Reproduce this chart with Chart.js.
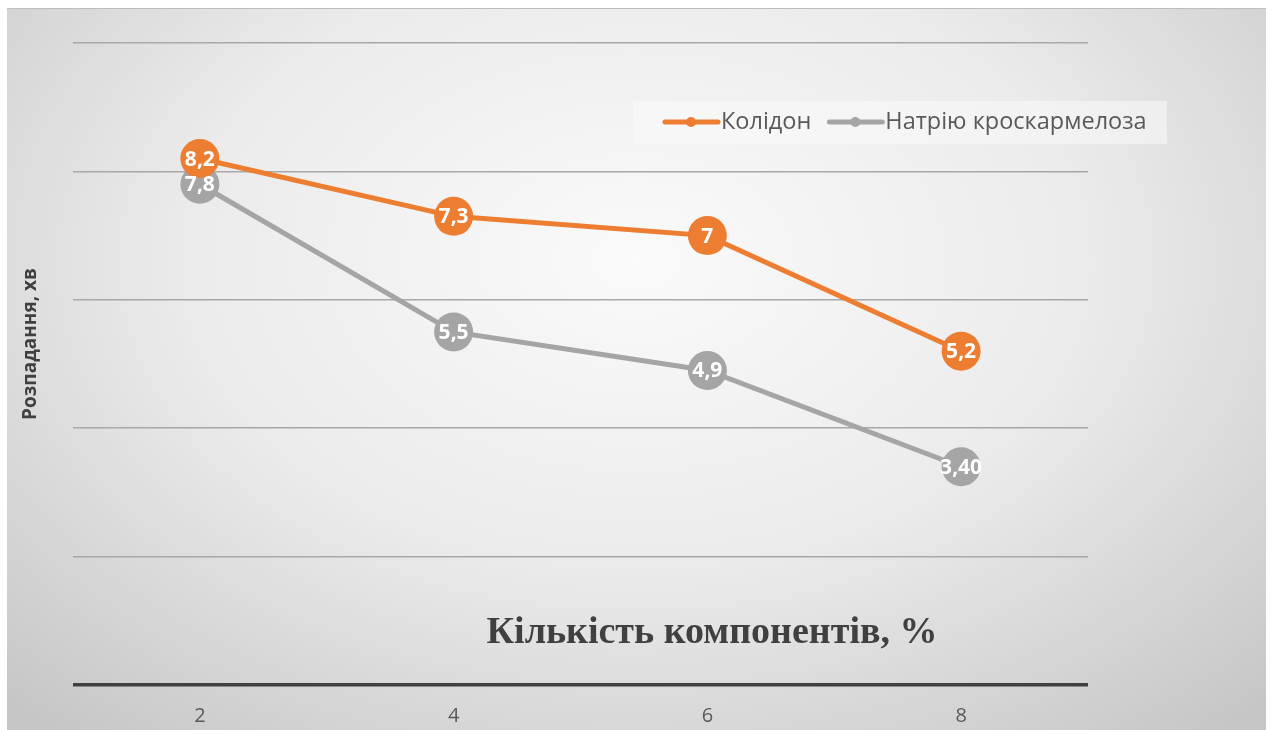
<!DOCTYPE html>
<html>
<head>
<meta charset="utf-8">
<script src="https://cdn.jsdelivr.net/npm/chart.js@4"></script>
<style>
    html, body { margin: 0; padding: 0; background: #fff; }
    #card {
        position: absolute; left: 7px; top: 8px; width: 1259px; height: 722px;
        background: radial-gradient(ellipse 72% 85% at 50% 35%, #fafafa 0%, #ebebeb 50%, #c6c6c6 100%);
        border-top: 1px solid #bdbdbd;
        box-sizing: border-box;
    }
</style>
</head>
<body>
<div id="card"><canvas id="chart" width="1259" height="721"></canvas></div>
<script>
// --- Data ---
const categories = ['2', '4', '6', '8'];
const kolidonValues = [8.2, 7.3, 7.0, 5.2];
const kolidonLabels = ['8,2', '7,3', '7', '5,2'];
const natriumValues = [7.8, 5.5, 4.9, 3.4];
const natriumLabels = ['7,8', '5,5', '4,9', '3,40'];
const yTicks = [0, 2, 4, 6, 8, 10];

const xTitle = 'Кількість компонентів, %';
const yTitle = 'Розпадання, хв';

const ORANGE = '#ED7D31';
const GREY = '#A5A5A5';

// --- Plugins ---
const pointLabels = {
    id: 'pointLabels',
    afterDatasetsDraw(chart) {
        const ctx = chart.ctx;
        ctx.save();
        ctx.font = 'bold 21px "Open Sans", sans-serif';
        ctx.fillStyle = '#fff';
        ctx.textAlign = 'center';
        ctx.textBaseline = 'middle';
        chart.data.datasets.forEach((ds, i) => {
            chart.getDatasetMeta(i).data.forEach((pt, j) => {
                ctx.fillText(ds.pointText[j], pt.x, pt.y + 1);
            });
        });
        ctx.restore();
    }
};

const titlesAndLegend = {
    id: 'titlesAndLegend',
    afterDraw(chart) {
        const ctx = chart.ctx;
        const area = chart.chartArea;
        ctx.save();

        // x title inside the plot
        ctx.font = 'bold 38px "Liberation Serif", serif';
        ctx.fillStyle = '#404040';
        ctx.textAlign = 'center';
        ctx.textBaseline = 'alphabetic';
        ctx.fillText(xTitle, area.left + 639, area.bottom - 42);

        // y title
        ctx.translate(24, area.top + 301);
        ctx.rotate(-Math.PI / 2);
        ctx.font = 'bold 19px "Open Sans", sans-serif';
        ctx.textBaseline = 'middle';
        ctx.fillText(yTitle, 0, 0);
        ctx.setTransform(1, 0, 0, 1, 0, 0);

        // legend
        const lx = area.right - 455, ly = 92;
        ctx.fillStyle = 'rgba(250,250,250,0.55)';
        ctx.fillRect(lx, ly, 534, 43);
        const cy = ly + 21;
        let x = lx + 32;
        ctx.font = '23.5px "Open Sans", sans-serif';
        ctx.textAlign = 'left';
        ctx.textBaseline = 'middle';
        chart.data.datasets.forEach(ds => {
            ctx.strokeStyle = ds.borderColor;
            ctx.lineWidth = 5;
            ctx.lineCap = 'round';
            ctx.beginPath();
            ctx.moveTo(x, cy);
            ctx.lineTo(x + 53, cy);
            ctx.stroke();
            ctx.fillStyle = ds.borderColor;
            ctx.beginPath();
            ctx.arc(x + 26, cy, 5, 0, Math.PI * 2);
            ctx.fill();
            ctx.fillStyle = '#595959';
            ctx.fillText(ds.label, x + 56, cy);
            x += 56 + ctx.measureText(ds.label).width + 18;
        });
        ctx.restore();
    }
};

// --- Chart ---
new Chart(document.getElementById('chart'), {
    type: 'line',
    data: {
        labels: categories,
        datasets: [
            {
                label: 'Колідон',
                data: kolidonValues,
                pointText: kolidonLabels,
                borderColor: ORANGE,
                backgroundColor: ORANGE,
                borderWidth: 5,
                pointRadius: 19.5,
                pointBorderWidth: 0,
                pointHoverRadius: 19.5
            },
            {
                label: 'Натрію кроскармелоза',
                data: natriumValues,
                pointText: natriumLabels,
                borderColor: GREY,
                backgroundColor: GREY,
                borderWidth: 5,
                pointRadius: 19.5,
                pointBorderWidth: 0,
                pointHoverRadius: 19.5
            }
        ]
    },
    options: {
        responsive: false,
        animation: false,
        events: [],
        layout: { padding: { top: 34, right: 178, left: 0, bottom: 0 } },
        plugins: { legend: { display: false }, tooltip: { enabled: false } },
        scales: {
            x: {
                offset: true,
                grid: { display: false },
                border: { display: false },
                ticks: { color: '#595959', font: { size: 20, family: '"Open Sans", sans-serif' }, padding: 11 },
                afterFit(scale) { scale.height = 45; }
            },
            y: {
                min: 0,
                max: 10,
                afterBuildTicks(scale) { scale.ticks = yTicks.map(v => ({ value: v })); },
                ticks: { display: false },
                border: { display: false },
                grid: {
                    drawTicks: false,
                    color: ctx => ctx.tick.value === 0 ? '#404040' : '#a8a8a8',
                    lineWidth: ctx => ctx.tick.value === 0 ? 3.5 : 1.5
                },
                afterFit(scale) { scale.width = 66; }
            }
        }
    },
    plugins: [pointLabels, titlesAndLegend]
});
</script>
</body>
</html>
